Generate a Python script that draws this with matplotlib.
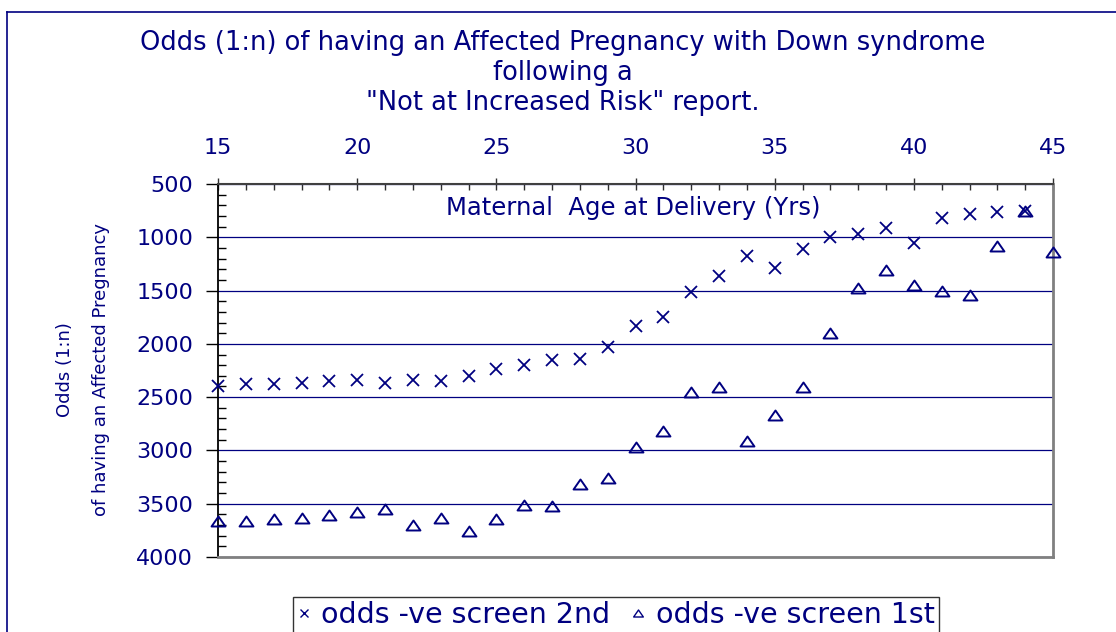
import matplotlib
matplotlib.use("Agg")
import matplotlib.pyplot as plt
from matplotlib.ticker import MultipleLocator
from matplotlib.lines import Line2D
from matplotlib.path import Path

# ---- data ----
ages_2nd = [15, 16, 17, 18, 19, 20, 21, 22, 23, 24, 25, 26, 27, 28, 29,
            30, 31, 32, 33, 34, 35, 36, 37, 38, 39, 40, 41, 42, 43, 44]
odds_2nd = [2395, 2380, 2380, 2364, 2351, 2339, 2364, 2339, 2351, 2298, 2232, 2203, 2151, 2139, 2026,
            1835, 1745, 1513, 1363, 1176, 1285, 1107, 994, 966, 916, 1050, 822, 781, 766, 750]
ages_1st = [15, 16, 17, 18, 19, 20, 21, 22, 23, 24, 25, 26, 27, 28, 29,
            30, 31, 32, 33, 34, 35, 36, 37, 38, 39, 40, 41, 42, 43, 44, 45]
odds_1st = [3662, 3662, 3646, 3631, 3602, 3574, 3546, 3703, 3631, 3756, 3646, 3509, 3524, 3318, 3261,
            2965, 2814, 2452, 2408, 2911, 2667, 2408, 1895, 1473, 1307, 1448, 1501, 1542, 1082, 750, 1135]
x_ticks = [15, 20, 25, 30, 35, 40, 45]
y_ticks = [500, 1000, 1500, 2000, 2500, 3000, 3500, 4000]

title = 'Odds (1:n) of having an Affected Pregnancy with Down syndrome\nfollowing a\n"Not at Increased Risk" report.'
label_2nd = "odds -ve screen 2nd"
label_1st = "odds -ve screen 1st"

NAVY = "#000080"
W, H = 1116, 632
plt.rcParams['font.family'] = ['DejaVu Sans']

fig = plt.figure(figsize=(W / 100, H / 100), dpi=100)
fig.patch.set_facecolor("white")

# outer border (left and top)
fig.add_artist(Line2D([7 / W, 7 / W], [0, 1 - 12 / H], transform=fig.transFigure, color=NAVY, lw=1.2))
fig.add_artist(Line2D([7 / W, 1], [1 - 12 / H, 1 - 12 / H], transform=fig.transFigure, color=NAVY, lw=1.2))

ax = fig.add_axes([218 / W, 75 / H, 835 / W, 373 / H])
ax.set_xlim(15, 45)
ax.set_ylim(4000, 500)
ax.set_xticks(x_ticks)
ax.set_yticks(y_ticks)
ax.xaxis.set_minor_locator(MultipleLocator(1))
ax.yaxis.set_minor_locator(MultipleLocator(100))
ax.xaxis.tick_top()
ax.tick_params(axis='x', which='major', direction='inout', length=9, width=1, color='#303030',
               labelsize=16, labelcolor=NAVY, pad=14)
ax.tick_params(axis='x', which='minor', direction='in', length=4, width=1, color='#303030')
ax.tick_params(axis='y', which='major', direction='out', length=9, width=1, color='black',
               labelsize=16, labelcolor=NAVY, pad=9)
ax.tick_params(axis='y', which='minor', direction='in', length=6, width=1, color='black')

ax.yaxis.grid(True, which='major', color=NAVY, lw=0.9)
ax.set_axisbelow(True)

ax.spines['left'].set_color('black')
ax.spines['left'].set_linewidth(1.3)
ax.spines['top'].set_color('#404040')
ax.spines['top'].set_linewidth(1.5)
ax.spines['right'].set_color('#808080')
ax.spines['right'].set_linewidth(2)
ax.spines['bottom'].set_color('#808080')
ax.spines['bottom'].set_linewidth(2)

tri = Path([(-1, -0.72), (1, -0.72), (0, 0.72), (-1, -0.72)],
           [Path.MOVETO, Path.LINETO, Path.LINETO, Path.CLOSEPOLY])

ax.plot(ages_2nd, odds_2nd, linestyle='none', marker='x', markersize=9, mew=1.3,
        color=NAVY, clip_on=False, zorder=5)
ax.plot(ages_1st, odds_1st, linestyle='none', marker=tri, markersize=10, mew=1.4,
        mfc='none', mec=NAVY, clip_on=False, zorder=5)

ax.text(633 / W, 1 - 208 / H, 'Maternal  Age at Delivery (Yrs)', transform=fig.transFigure,
        ha='center', va='center', fontsize=17.5, color=NAVY)

fig.text(563 / W, 1 - 73 / H, title, ha='center', va='center', fontsize=18.5,
         color=NAVY, linespacing=1.2)

fig.text(65 / W, 1 - 370 / H, 'Odds (1:n)', rotation=90, ha='center', va='center',
         fontsize=13, color=NAVY)
fig.text(101 / W, 1 - 370 / H, 'of having an Affected Pregnancy', rotation=90, ha='center',
         va='center', fontsize=13, color=NAVY)

h1 = Line2D([], [], linestyle='none', marker='x', markersize=6, mew=1.0, color=NAVY)
h2 = Line2D([], [], linestyle='none', marker=tri, markersize=7, mew=1.0, mfc='none', mec=NAVY)
leg = fig.legend([h1, h2], [label_2nd, label_1st], loc='upper left',
                 bbox_to_anchor=(293 / W, 1 - 597 / H), bbox_transform=fig.transFigure,
                 ncol=2, fontsize=20.5, frameon=True, fancybox=False,
                 edgecolor='black', borderaxespad=0, handlelength=0.45, handletextpad=0.4,
                 columnspacing=0.75, borderpad=0.15)
leg.get_frame().set_linewidth(1.0)
for t in leg.get_texts():
    t.set_color(NAVY)

fig.savefig("out.png", dpi=100)
